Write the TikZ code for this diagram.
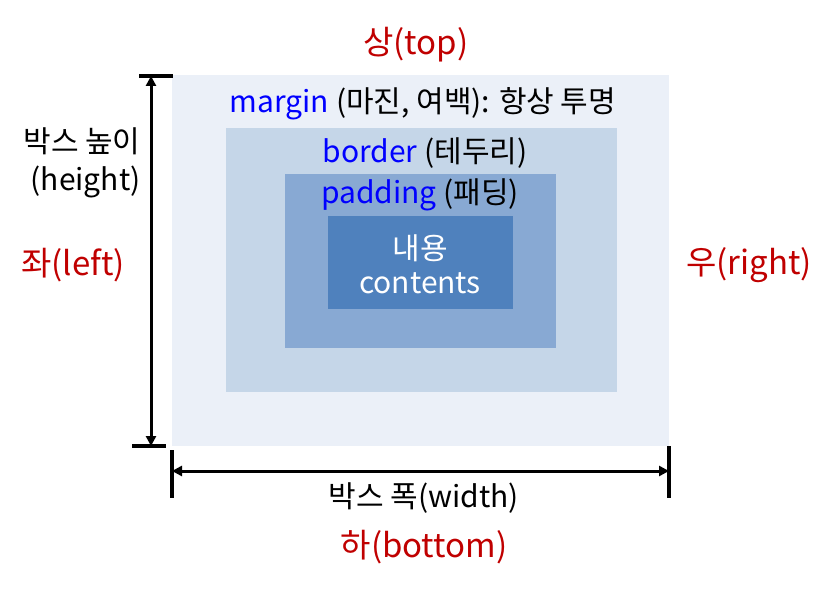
\documentclass[tikz,border=0pt]{standalone}
\usepackage{fontspec}
\setmainfont{Noto Sans CJK KR}
\usetikzlibrary{arrows.meta}
\definecolor{marginbg}{HTML}{EBF0F8}
\definecolor{borderbg}{HTML}{C5D6E8}
\definecolor{paddingbg}{HTML}{88A9D3}
\definecolor{contentbg}{HTML}{4F81BD}
\definecolor{sidered}{HTML}{C00000}

\begin{document}
\begin{tikzpicture}[x=1pt, y=-1pt,
    lbl/.style={inner sep=0pt, font=\fontsize{30}{34}\selectfont},
    side/.style={lbl, text=sidered, font=\fontsize{33}{38}\selectfont},
    dim/.style={line width=3pt, {Triangle[length=10pt, width=10pt]}-{Triangle[length=10pt, width=10pt]}},
    tick/.style={line width=3.5pt}]
                \useasboundingbox (0,0) rectangle (835,593);
                % nested boxes
                \fill[marginbg] (172,75) rectangle (669,446);
                \fill[borderbg] (226,128) rectangle (617,392);
                \fill[paddingbg] (285,174) rectangle (556,348);
                \fill[contentbg] (328,216) rectangle (513,309);
                % box labels
                \node[lbl] (margin) at (423,104) {\textcolor{blue}{margin} (마진, 여백): 항상 투명};
                \node[lbl] (border) at (425,153) {\textcolor{blue}{border} (테두리)};
                \node[lbl] (padding) at (420,195) {\textcolor{blue}{padding} (패딩)};
                \node[lbl, text=white, align=center, font=\fontsize{30}{34}\selectfont] (content) at (420,264) {내용\\contents};
                % sides
                \node[side] (top) at (416,45) {상(top)};
                \node[side] (bottom) at (424,547) {하(bottom)};
                \node[side] (left) at (73,265) {좌(left)};
                \node[side] (right) at (749,265) {우(right)};
                % height
                \coordinate (htop) at (151,76);
                \coordinate (hbot) at (151,446);
                \draw[tick] (139,76) -- (173,76);
                \draw[tick] (132,446) -- (166,446);
                \draw[dim] (htop) -- (hbot);
                \node[lbl, align=right, font=\fontsize{30}{38}\selectfont] (height) at (82,163) {박스 높이\\(height)};
                % width
                \coordinate (wleft) at (172,471);
                \coordinate (wright) at (669,471);
                \draw[tick] (172,450) -- (172,498);
                \draw[tick] (669,446) -- (669,498);
                \draw[dim] (wleft) -- (wright);
                \node[lbl] (width) at (424,498) {박스 폭(width)};
\end{tikzpicture}
\end{document}
